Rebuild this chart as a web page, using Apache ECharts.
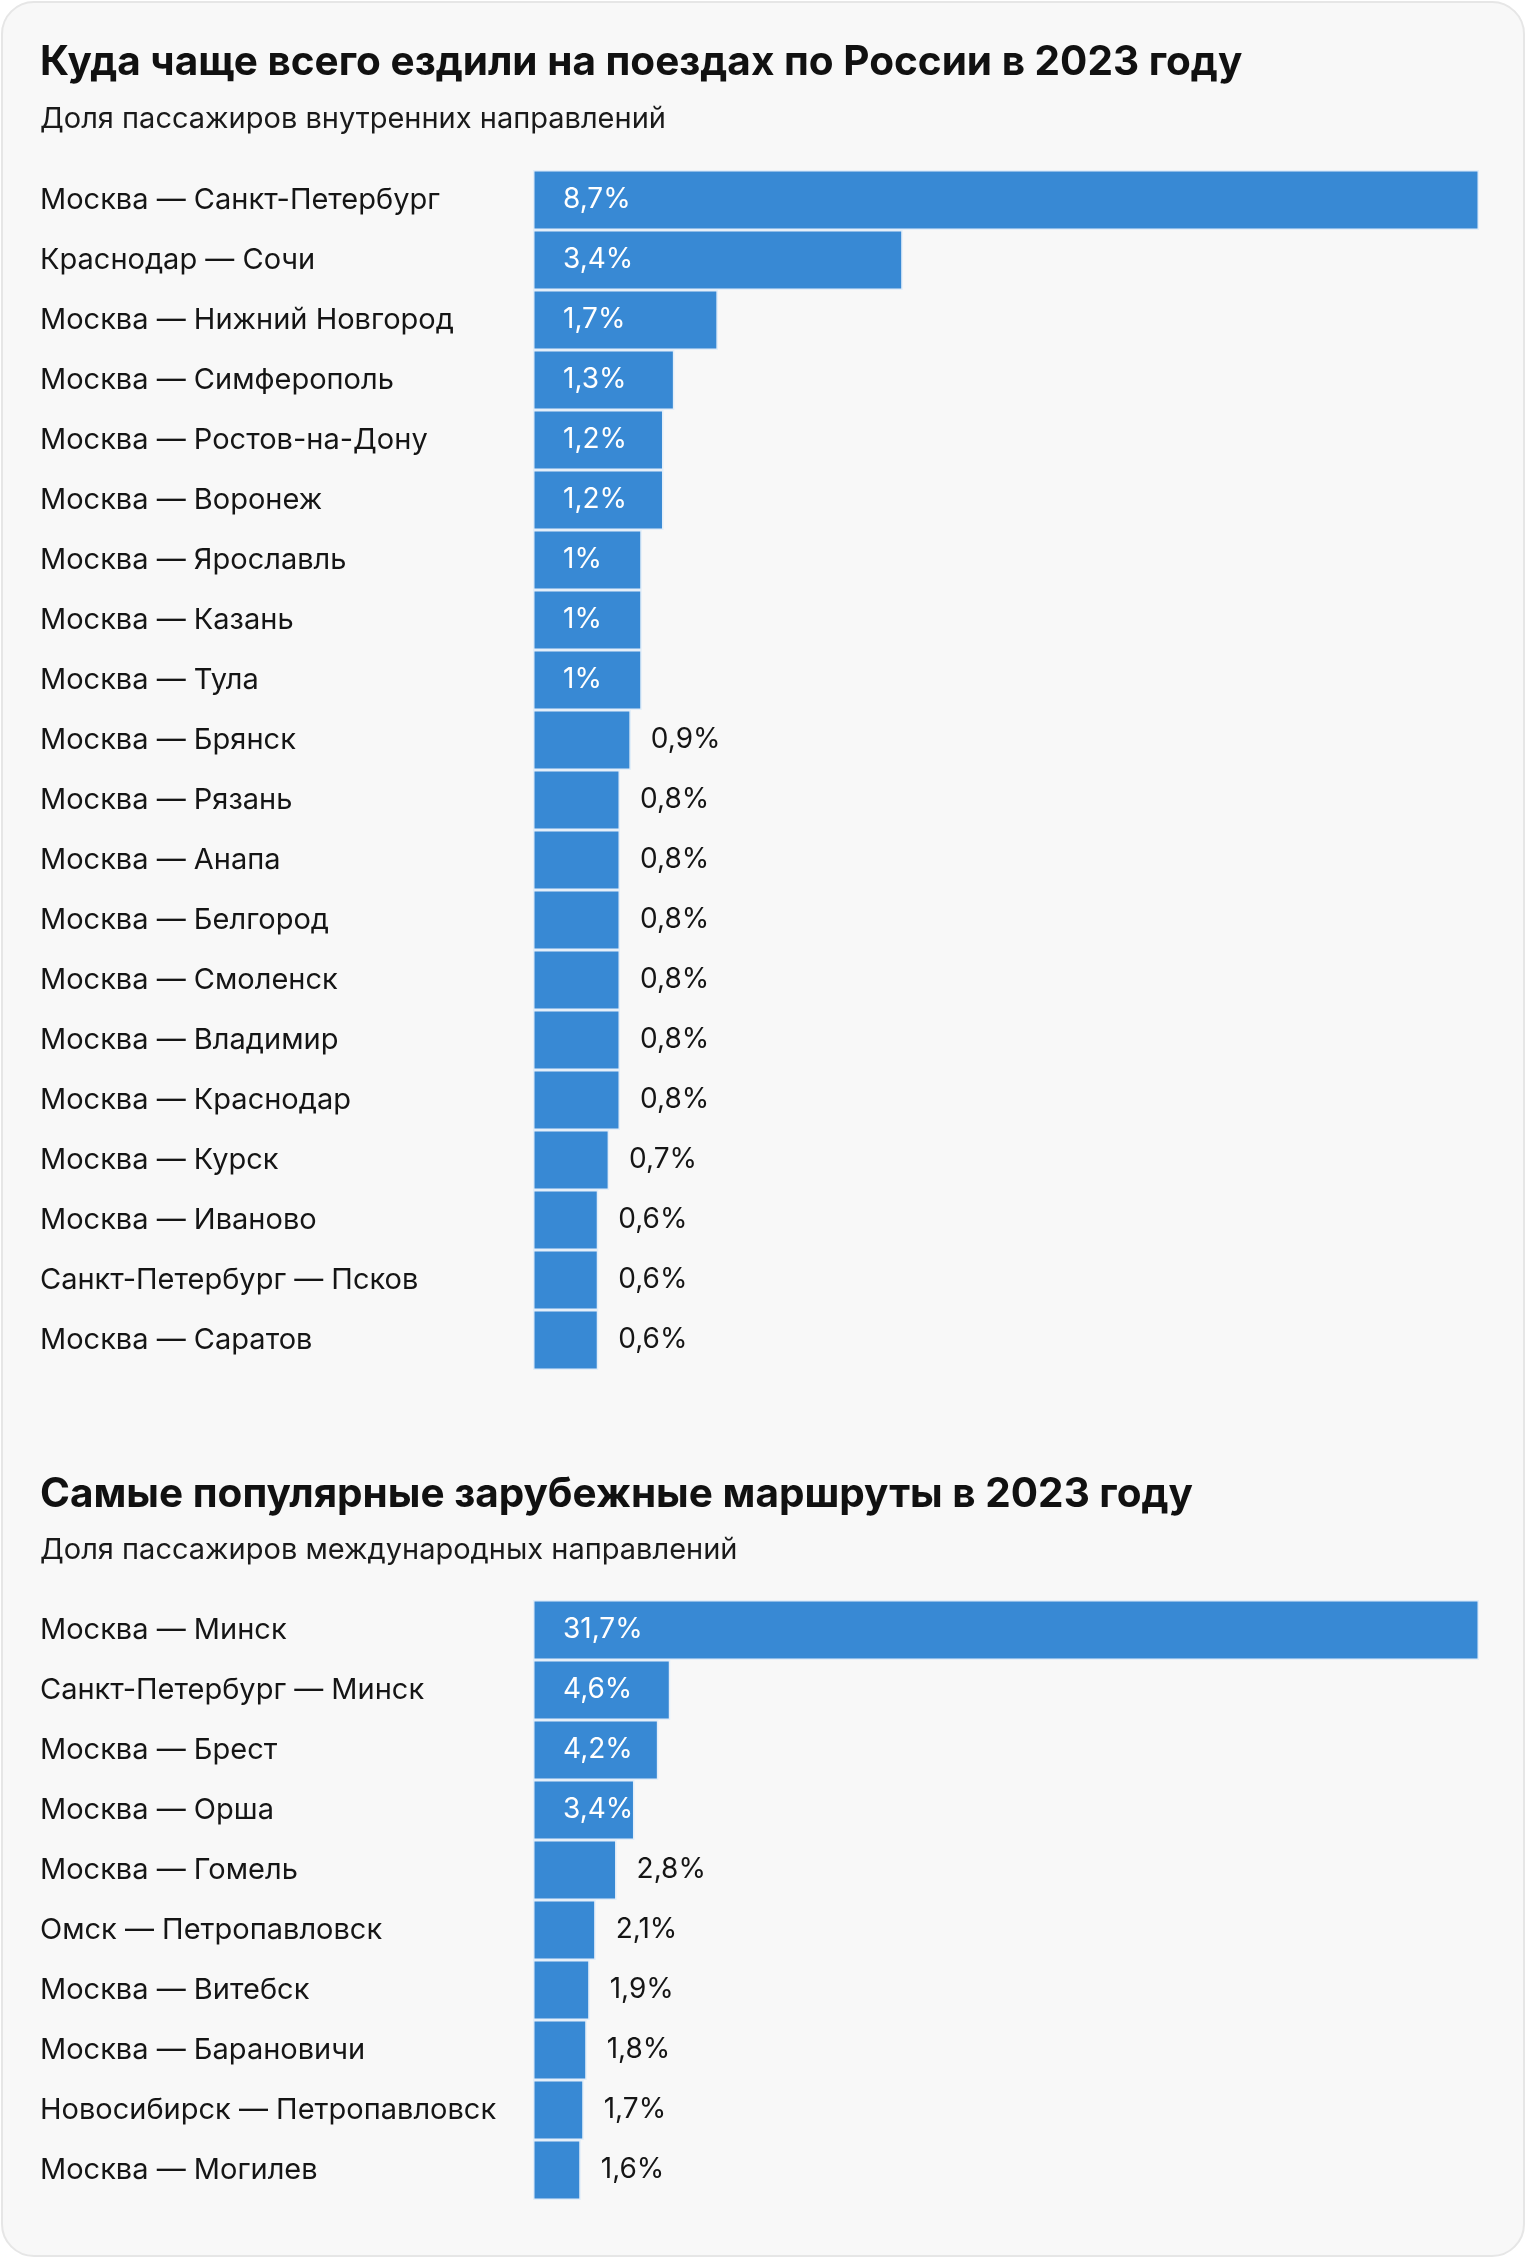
<!DOCTYPE html>
<html>
<head>
<meta charset="utf-8">
<style>
  html, body { margin: 0; padding: 0; background: #ffffff; }
  #chart { width: 1528px; height: 2260px; }
</style>
<script src="https://cdn.jsdelivr.net/npm/echarts@6/dist/echarts.min.js"></script>
</head>
<body>
<div id="chart"></div>
<script>
const title1 = 'Куда чаще всего ездили на поездах по России в 2023 году';
const subtitle1 = 'Доля пассажиров внутренних направлений';
const routes1 = [
  'Москва — Санкт-Петербург', 'Краснодар — Сочи', 'Москва — Нижний Новгород',
  'Москва — Симферополь', 'Москва — Ростов-на-Дону', 'Москва — Воронеж',
  'Москва — Ярославль', 'Москва — Казань', 'Москва — Тула', 'Москва — Брянск',
  'Москва — Рязань', 'Москва — Анапа', 'Москва — Белгород', 'Москва — Смоленск',
  'Москва — Владимир', 'Москва — Краснодар', 'Москва — Курск', 'Москва — Иваново',
  'Санкт-Петербург — Псков', 'Москва — Саратов'
];
const share1 = [8.7, 3.4, 1.7, 1.3, 1.2, 1.2, 1, 1, 1, 0.9, 0.8, 0.8, 0.8, 0.8, 0.8, 0.8, 0.7, 0.6, 0.6, 0.6];

const title2 = 'Самые популярные зарубежные маршруты в 2023 году';
const subtitle2 = 'Доля пассажиров международных направлений';
const routes2 = [
  'Москва — Минск', 'Санкт-Петербург — Минск', 'Москва — Брест', 'Москва — Орша',
  'Москва — Гомель', 'Омск — Петропавловск', 'Москва — Витебск', 'Москва — Барановичи',
  'Новосибирск — Петропавловск', 'Москва — Могилев'
];
const share2 = [31.7, 4.6, 4.2, 3.4, 2.8, 2.1, 1.9, 1.8, 1.7, 1.6];

const FONT = 'Inter, Roboto, "Noto Sans", sans-serif';
const BAR = '#3889d4';
const PLOT_W = 946;

function fmt(v) { return String(v).replace('.', ',') + '%'; }

function makeData(values) {
  const max = Math.max.apply(null, values);
  return values.map(v => {
    const inside = v / max * PLOT_W >= 100;
    return {
      value: v,
      label: inside
        ? { position: 'insideLeft', distance: 30, color: '#ffffff' }
        : { position: 'right', distance: 20, color: '#151515' }
    };
  });
}

const chart = echarts.init(document.getElementById('chart'), null, { renderer: 'canvas' });

const yAxisCommon = {
  type: 'category',
  inverse: true,
  axisLine: { show: false },
  axisTick: { show: false },
  splitLine: { show: false },
  axisLabel: {
    align: 'left',
    margin: 493,
    fontFamily: FONT,
    fontSize: 29,
    color: '#151515'
  }
};
const xAxisCommon = {
  type: 'value',
  min: 0,
  max: 'dataMax',
  show: false,
  splitLine: { show: false }
};
const seriesCommon = {
  type: 'bar',
  barCategoryGap: 0,
  itemStyle: { color: BAR, borderColor: '#e3eef9', borderWidth: 1.5 },
  label: {
    show: true,
    fontFamily: FONT,
    fontSize: 28,
    formatter: p => fmt(p.value)
  },
  silent: true,
  animation: false
};

chart.setOption({
  animation: false,
  graphic: [{
    type: 'rect',
    z: -10,
    shape: { x: 2, y: 2, width: 1522, height: 2254, r: 32 },
    style: { fill: '#f8f8f8', stroke: '#e6e6e6', lineWidth: 2 }
  }],
  title: [
    { text: title1, left: 40, top: 42, padding: 0, textStyle: { fontFamily: FONT, fontSize: 40.5, fontWeight: 'bold', color: '#111' } },
    { text: subtitle1, left: 40, top: 105, padding: 0, textStyle: { fontFamily: FONT, fontSize: 29, fontWeight: 'normal', color: '#1a1a1a' } },
    { text: title2, left: 40, top: 1474, padding: 0, textStyle: { fontFamily: FONT, fontSize: 40.5, fontWeight: 'bold', color: '#111' } },
    { text: subtitle2, left: 40, top: 1536, padding: 0, textStyle: { fontFamily: FONT, fontSize: 29, fontWeight: 'normal', color: '#1a1a1a' } }
  ],
  grid: [
    { left: 533, top: 170, width: PLOT_W, height: 1200 },
    { left: 533, top: 1600, width: PLOT_W, height: 600 }
  ],
  xAxis: [
    Object.assign({ gridIndex: 0 }, xAxisCommon),
    Object.assign({ gridIndex: 1 }, xAxisCommon)
  ],
  yAxis: [
    Object.assign({ gridIndex: 0, data: routes1 }, yAxisCommon),
    Object.assign({ gridIndex: 1, data: routes2 }, yAxisCommon)
  ],
  series: [
    Object.assign({ xAxisIndex: 0, yAxisIndex: 0, data: makeData(share1) }, seriesCommon),
    Object.assign({ xAxisIndex: 1, yAxisIndex: 1, data: makeData(share2) }, seriesCommon)
  ]
});
</script>
</body>
</html>
